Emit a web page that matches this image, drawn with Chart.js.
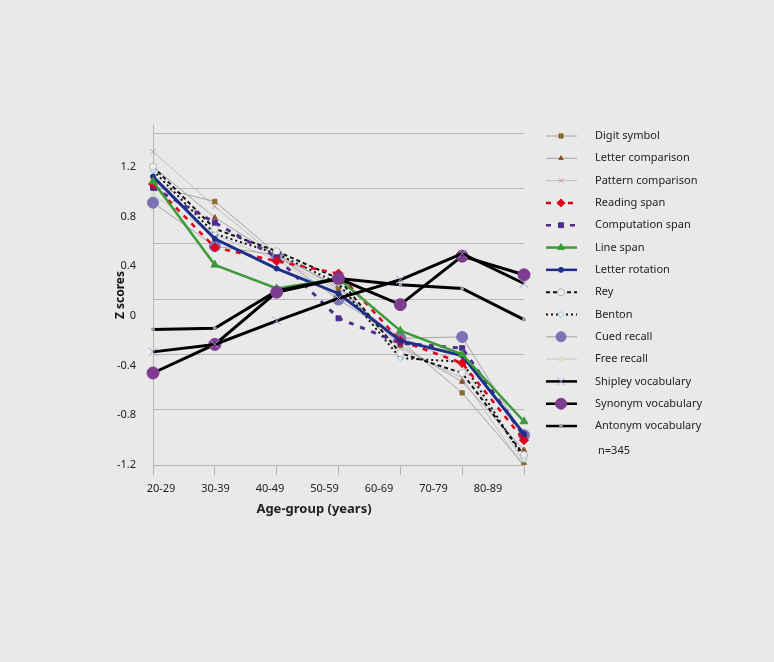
<!DOCTYPE html>
<html>
<head>
<meta charset="utf-8">
<script src="https://cdn.jsdelivr.net/npm/chart.js@4.4.0/dist/chart.umd.min.js"></script>
<style>
  html, body { margin: 0; padding: 0; background: #e9e9e9; }
  #wrap { width: 774px; height: 662px; position: relative; }
</style>
</head>
<body>
<div id="wrap"><canvas id="chart"></canvas></div>
<script>
// Dados
const ageGroups = ['20-29', '30-39', '40-49', '50-59', '60-69', '70-79', '80-89'];
const yTickValues = [-1.2, -0.8, -0.4, 0, 0.4, 0.8, 1.2];

const digitSymbol       = [1.04, 0.92, 0.50, 0.22, -0.20, -0.62, -1.20];
const letterComparison  = [1.20, 0.79, 0.48, 0.24, -0.24, -0.53, -1.08];
const patternComparison = [1.32, 0.88, 0.47, 0.20, -0.26, -0.50, -1.22];
const readingSpan       = [1.06, 0.55, 0.44, 0.34, -0.20, -0.38, -1.00];
const computationSpan   = [1.03, 0.75, 0.47, -0.02, -0.22, -0.26, -0.97];
const lineSpan          = [1.08, 0.41, 0.22, 0.30, -0.12, -0.31, -0.85];
const letterRotation    = [1.12, 0.62, 0.38, 0.18, -0.20, -0.32, -0.95];
const rey               = [1.20, 0.70, 0.52, 0.30, -0.30, -0.46, -1.12];
const benton            = [1.17, 0.66, 0.50, 0.26, -0.34, -0.37, -1.15];
const cuedRecall        = [0.91, 0.56, 0.49, 0.13, -0.18, -0.17, -0.96];
const freeRecall        = [0.97, 0.65, 0.45, 0.15, -0.16, -0.40, -1.18];
const shipleyVocabulary = [-0.29, -0.23, -0.04, 0.14, 0.29, 0.50, 0.26];
const synonymVocabulary = [-0.46, -0.23, 0.19, 0.30, 0.09, 0.48, 0.33];
const antonymVocabulary = [-0.11, -0.10, 0.20, 0.30, 0.25, 0.22, -0.03];

const sampleNote = 'n=345';
const xTitle = 'Age-group (years)';
const yTitle = 'Z scores';

const FONT = '"Noto Sans", "DejaVu Sans", sans-serif';

function serie(label, data, line, width, dash, style, fill, border, radius, legendRadius, order) {
    return {
        label: label,
        data: data,
        borderColor: line,
        borderWidth: width,
        borderDash: dash,
        pointStyle: style,
        pointBackgroundColor: fill,
        pointBorderColor: border,
        pointBorderWidth: style === 'crossRot' ? 1 : 1,
        pointRadius: radius,
        legendRadius: legendRadius,
        tension: 0,
        fill: false,
        order: order
    };
}

const datasets = [
    serie('Digit symbol', digitSymbol, '#a4a4a4', 1, [], 'rect', '#8c6d2c', '#8c6d2c', 3, 3, 5),
    serie('Letter comparison', letterComparison, '#a4a4a4', 1, [], 'triangle', '#8e4b2e', '#8e4b2e', 3, 2.5, 5),
    serie('Pattern comparison', patternComparison, '#bdbdbd', 1, [], 'crossRot', '#c09aa4', '#c09aa4', 4, 3, 5),
    serie('Reading span', readingSpan, '#e2001a', 2.5, [5, 6], 'rectRot', '#e2001a', '#e2001a', 4.5, 4, 3),
    serie('Computation span', computationSpan, '#4f2c8e', 3, [5, 7], 'rect', '#4f2c8e', '#4f2c8e', 3.5, 3.5, 3),
    serie('Line span', lineSpan, '#3e9b37', 2.5, [], 'triangle', '#3e9b37', '#3e9b37', 4.5, 4, 2),
    serie('Letter rotation', letterRotation, '#1d2f8a', 3, [], 'circle', '#1d2f8a', '#1d2f8a', 2.5, 2.5, 2),
    serie('Rey', rey, '#111111', 2, [4, 3], 'circle', '#efefef', '#b8b8b8', 3.5, 3.5, 4),
    serie('Benton', benton, '#111111', 2, [2, 3], 'rectRot', '#e8f4fa', '#8cc4dc', 3, 3, 4),
    serie('Cued recall', cuedRecall, '#a4a4a4', 1, [], 'circle', '#7c72b6', '#7c72b6', 5.5, 5, 5),
    serie('Free recall', freeRecall, '#c8c8c8', 1, [], 'rect', '#d4e4c4', '#d4e4c4', 3, 3, 5),
    serie('Shipley vocabulary', shipleyVocabulary, '#000000', 3, [], 'crossRot', '#a898c8', '#a898c8', 6, 5, 1),
    serie('Synonym vocabulary', synonymVocabulary, '#000000', 3, [], 'circle', '#7e3b8f', '#7e3b8f', 6, 5.5, 1),
    serie('Antonym vocabulary', antonymVocabulary, '#000000', 3, [], 'rect', '#9a9a9a', '#9a9a9a', 1.8, 1.8, 1)
];

// Legenda lateral e textos
const sideLegend = {
    id: 'sideLegend',
    afterDraw(chart) {
        const ctx = chart.ctx;
        const step = 22.31;
        chart.data.datasets.forEach(function(ds, i) {
            const y = 136 + i * step;
            ctx.save();
            ctx.strokeStyle = ds.borderColor;
            ctx.lineWidth = Math.min(ds.borderWidth, 2.5);
            ctx.setLineDash(ds.borderDash || []);
            ctx.beginPath();
            ctx.moveTo(546, y);
            ctx.lineTo(577, y);
            ctx.stroke();
            ctx.setLineDash([]);
            ctx.fillStyle = ds.pointBackgroundColor;
            ctx.strokeStyle = ds.pointBorderColor;
            ctx.lineWidth = 1;
            Chart.helpers.drawPoint(ctx, {
                pointStyle: ds.pointStyle,
                radius: ds.legendRadius,
                rotation: 0,
                borderWidth: 1
            }, 561, y);
            ctx.fillStyle = '#222222';
            ctx.font = '11px ' + FONT;
            ctx.textBaseline = 'middle';
            ctx.textAlign = 'left';
            ctx.fillText(ds.label, 595, y);
            ctx.restore();
        });
        ctx.save();
        ctx.fillStyle = '#222222';
        ctx.font = '11px ' + FONT;
        ctx.textBaseline = 'middle';
        ctx.fillText(sampleNote, 598, 451);
        ctx.font = 'bold 13px ' + FONT;
        ctx.textAlign = 'center';
        ctx.fillText(xTitle, 314, 509);
        ctx.restore();
    }
};

const yMin = -1.2, yMax = 1.535;
const gridStep = 0.4 * 55 / 49.5;
const labelStep = 54.5, labelStart = 8, plotWidth = 371;

new Chart(document.getElementById('chart').getContext('2d'), {
    type: 'line',
    data: { labels: ageGroups, datasets: datasets },
    options: {
        responsive: true,
        maintainAspectRatio: false,
        animation: false,
        layout: { padding: { left: 103, right: 250, top: 125, bottom: 157 } },
        plugins: {
            legend: { display: false },
            tooltip: { enabled: false }
        },
        scales: {
            x: {
                type: 'category',
                offset: false,
                grid: { drawOnChartArea: false, tickLength: 10, color: '#b5b5b5' },
                border: { display: true, color: '#b5b5b5' },
                ticks: { display: false },
                afterFit: function(scale) { scale.height = 10; }
            },
            xLabels: {
                type: 'linear',
                position: 'bottom',
                weight: 1,
                min: -labelStart / labelStep,
                max: (plotWidth - labelStart) / labelStep,
                grid: { display: false, drawTicks: false },
                border: { display: false },
                afterBuildTicks: function(scale) {
                    scale.ticks = ageGroups.map(function(_, i) { return { value: i }; });
                },
                ticks: {
                    autoSkip: false,
                    maxRotation: 0,
                    padding: 7,
                    color: '#222222',
                    font: { family: FONT, size: 11 },
                    callback: function(value) { return ageGroups[value]; }
                },
                afterFit: function(scale) { scale.height = 30; }
            },
            y: {
                type: 'linear',
                position: 'left',
                min: yMin,
                max: yMax,
                grid: { display: false, drawTicks: false },
                border: { display: true, color: '#b5b5b5' },
                afterBuildTicks: function(scale) {
                    scale.ticks = yTickValues.map(function(v) { return { value: v }; });
                },
                ticks: {
                    padding: 17,
                    color: '#222222',
                    font: { family: FONT, size: 11 },
                    callback: function(value) { return String(Number(value.toFixed(1))); }
                },
                title: {
                    display: true,
                    text: yTitle,
                    color: '#111111',
                    padding: 10,
                    font: { family: FONT, size: 12, weight: 'bold' }
                },
                afterFit: function(scale) { scale.width = 50; }
            },
            yGrid: {
                type: 'linear',
                position: 'right',
                min: yMin,
                max: yMax,
                grid: { color: '#b9b9b9', lineWidth: 1, drawTicks: false },
                border: { display: false },
                afterBuildTicks: function(scale) {
                    const t = [];
                    for (let k = 0; k <= 6; k++) t.push({ value: yMin + k * gridStep });
                    scale.ticks = t;
                },
                ticks: { display: false },
                afterFit: function(scale) { scale.width = 0; }
            }
        }
    },
    plugins: [sideLegend]
});
</script>
</body>
</html>
